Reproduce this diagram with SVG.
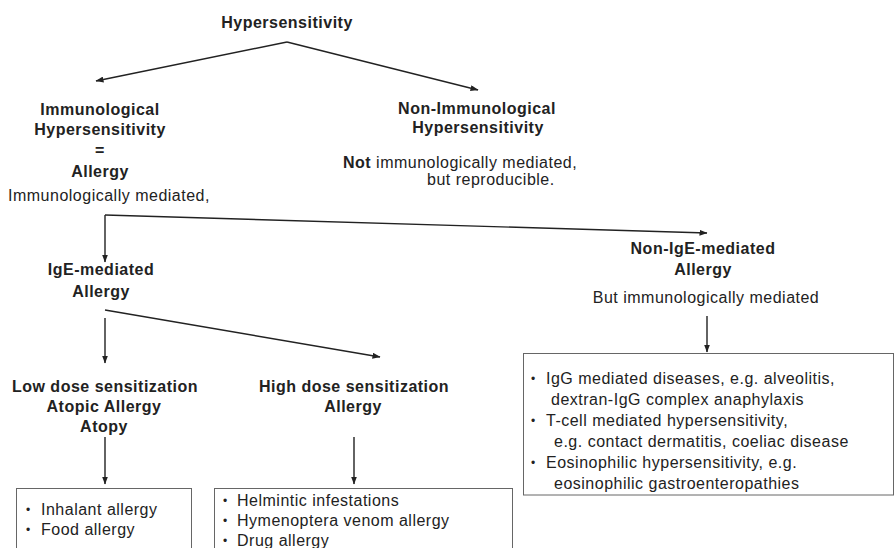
<svg xmlns="http://www.w3.org/2000/svg" width="895" height="548" viewBox="0 0 895 548">
<style>
.b{font-family:"Liberation Sans",Arial,sans-serif;font-size:16px;font-weight:bold;fill:#222;letter-spacing:0.5px}
.r{font-family:"Liberation Sans",Arial,sans-serif;font-size:16px;fill:#222;letter-spacing:0.5px}
.m{text-anchor:middle}
.bu{font-family:"Liberation Sans",Arial,sans-serif;font-size:12px;fill:#222}
.ln{stroke:#222;stroke-width:1.4;fill:none;marker-end:url(#ah)}
.box{fill:#fff;stroke:#666;stroke-width:1}
</style>
<defs>
<marker id="ah" markerWidth="8" markerHeight="6" refX="7.5" refY="3" orient="auto" markerUnits="userSpaceOnUse"><path d="M0,0 L8,3 L0,6 z" fill="#222"/></marker>
</defs>
<rect width="895" height="548" fill="#fff"/>
<g id="connectors">
<path class="ln" d="M287,42 L96,81"/>
<path class="ln" d="M287,42 L478,90"/>
<path class="ln" d="M105,215 L707,233"/>
<path class="ln" d="M105,215 L105,262"/>
<path class="ln" d="M105,310 L380,357"/>
<path class="ln" d="M105,318 L105,363"/>
<path class="ln" d="M707,316 L707,352"/>
<path class="ln" d="M105,437 L105,484"/>
<path class="ln" d="M354,437 L354,484"/>
</g>
<g id="n-root"><text class="b m" x="287" y="28">Hypersensitivity</text></g>
<g id="n-immuno">
<text class="b m" x="100" y="115">Immunological</text>
<text class="b m" x="100" y="135">Hypersensitivity</text>
<text class="b m" x="100" y="156">=</text>
<text class="b m" x="100" y="177">Allergy</text>
<text class="r" x="8" y="201">Immunologically mediated,</text>
</g>
<g id="n-nonimmuno">
<text class="b m" x="477" y="114">Non-Immunological</text>
<text class="b m" x="478" y="133">Hypersensitivity</text>
<text class="r" x="343" y="168"><tspan font-weight="bold">Not</tspan> immunologically mediated,</text>
<text class="r" x="427" y="185">but reproducible.</text>
</g>
<g id="n-ige">
<text class="b m" x="101" y="275">IgE-mediated</text>
<text class="b m" x="101" y="297">Allergy</text>
</g>
<g id="n-nonige">
<text class="b m" x="703" y="254">Non-IgE-mediated</text>
<text class="b m" x="703" y="275">Allergy</text>
<text class="r m" x="706" y="303">But immunologically mediated</text>
</g>
<g id="n-low">
<text class="b m" x="105" y="392">Low dose sensitization</text>
<text class="b m" x="104" y="412">Atopic Allergy</text>
<text class="b m" x="104" y="432">Atopy</text>
</g>
<g id="n-high">
<text class="b m" x="354" y="392">High dose sensitization</text>
<text class="b m" x="353" y="412">Allergy</text>
</g>
<g id="n-lowbox">
<rect class="box" x="16.5" y="488.5" width="175" height="80"/>
<text class="bu" x="26" y="514">•</text><text class="r" x="41" y="515">Inhalant allergy</text>
<text class="bu" x="26" y="534">•</text><text class="r" x="41" y="535">Food allergy</text>
</g>
<g id="n-highbox">
<rect class="box" x="214.5" y="488.5" width="298" height="80"/>
<text class="bu" x="223" y="505">•</text><text class="r" x="237" y="506">Helmintic infestations</text>
<text class="bu" x="223" y="525">•</text><text class="r" x="237" y="526">Hymenoptera venom allergy</text>
<text class="bu" x="223" y="545">•</text><text class="r" x="237" y="546">Drug allergy</text>
</g>
<g id="n-nonigebox">
<rect class="box" x="523.5" y="353.5" width="370" height="141.5"/>
<text class="bu" x="531" y="383">•</text><text class="r" x="546" y="384">IgG mediated diseases, e.g. alveolitis,</text>
<text class="r" x="551" y="405">dextran-IgG complex anaphylaxis</text>
<text class="bu" x="531" y="425">•</text><text class="r" x="546" y="426">T-cell mediated hypersensitivity,</text>
<text class="r" x="554" y="447">e.g. contact dermatitis, coeliac disease</text>
<text class="bu" x="531" y="467">•</text><text class="r" x="546" y="468">Eosinophilic hypersensitivity, e.g.</text>
<text class="r" x="554" y="489">eosinophilic gastroenteropathies</text>
</g>
</svg>
